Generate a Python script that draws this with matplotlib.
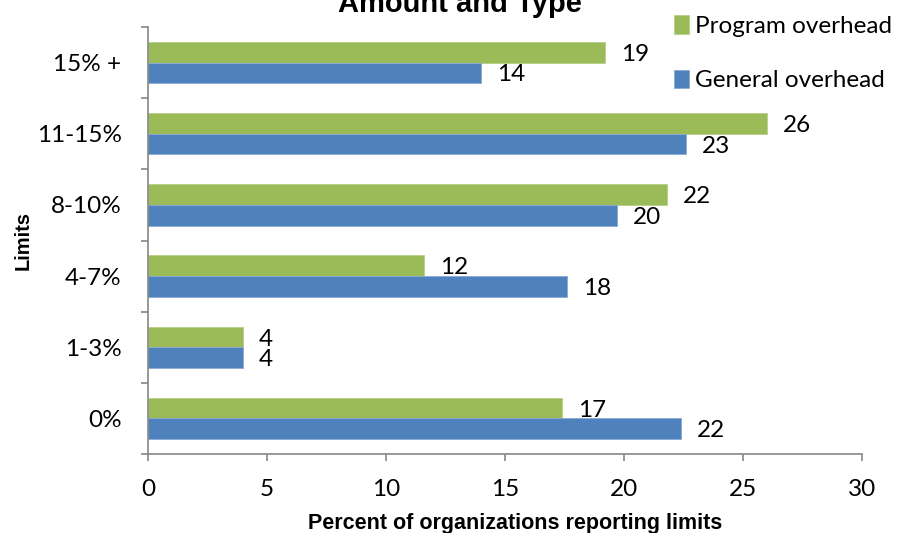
import matplotlib
matplotlib.use('Agg')
import matplotlib.pyplot as plt
import numpy as np

# data
categories = ['0%', '1-3%', '4-7%', '8-10%', '11-15%', '15% +']
program = [17.4, 4.0, 11.6, 21.8, 26.0, 19.2]
general = [22.4, 4.0, 17.6, 19.7, 22.6, 14.0]
program_labels = ['17', '4', '12', '22', '26', '19']
general_labels = ['22', '4', '18', '20', '23', '14']

GREEN = '#9BBB59'
BLUE = '#4F81BD'
AXIS = '#868686'
TICK_FONT = 'Lato'
BOLD_FONT = 'Liberation Sans'
FS = 17.5

fig = plt.figure(figsize=(9.11, 5.33), dpi=100)
ax = fig.add_axes([148 / 911, 1 - 454 / 533, 714 / 911, 427 / 533])

y = np.arange(len(categories))
h = 0.29
ax.barh(y + h / 2, program, height=h, color=GREEN, edgecolor='#B5CF86', linewidth=0.6,
        label='Program overhead')
ax.barh(y - h / 2, general, height=h, color=BLUE, edgecolor='#8BA9D4', linewidth=0.6,
        label='General overhead')

# value labels outside the bar ends
for yi, v, t in zip(y, program, program_labels):
    ax.annotate(t, (v, yi + h / 2), xytext=(11.5, -1.5), textcoords='offset points',
                va='center', ha='left', fontsize=FS, family=TICK_FONT)
for yi, v, t in zip(y, general, general_labels):
    ax.annotate(t, (v, yi - h / 2), xytext=(11.5, -1.5), textcoords='offset points',
                va='center', ha='left', fontsize=FS, family=TICK_FONT)

ax.set_xlim(0, 30)
ax.set_ylim(-0.5, len(categories) - 0.5)
ax.set_xticks(np.arange(0, 31, 5))
ax.set_yticks(y)
ax.set_yticklabels(categories)
ax.set_yticks(np.arange(-0.5, len(categories)), minor=True)

for s in ['top', 'right']:
    ax.spines[s].set_visible(False)
for s in ['left', 'bottom']:
    ax.spines[s].set_color(AXIS)
    ax.spines[s].set_linewidth(1.2)

ax.tick_params(axis='y', which='major', length=0, pad=19)
ax.tick_params(axis='y', which='minor', length=5, color=AXIS, width=1.2)
ax.tick_params(axis='x', which='major', length=5, color=AXIS, width=1.2, pad=13)
for lab in ax.get_xticklabels() + ax.get_yticklabels():
    lab.set_fontfamily(TICK_FONT)
    lab.set_fontsize(FS)

leg = ax.legend(loc='upper left', bbox_to_anchor=(674 / 911, 1 - 15 / 533), bbox_transform=fig.transFigure,
                frameon=False, handlelength=0.6, handleheight=0.8, handletextpad=0.25,
                labelspacing=1.35, borderaxespad=0, borderpad=0,
                prop={'family': TICK_FONT, 'size': 17.5})

fig.text(459.5 / 911, 1 - 12 / 533, 'Amount and Type', ha='center', va='baseline',
         fontsize=21, fontweight='bold', family=BOLD_FONT)
fig.text(23 / 911, 1 - 241 / 533, 'Limits', rotation=90, ha='center', va='center',
         fontsize=14.5, fontweight='bold', family=BOLD_FONT)
fig.text(515 / 911, 1 - 523 / 533, 'Percent of organizations reporting limits', ha='center',
         va='center', fontsize=15.5, fontweight='bold', family=BOLD_FONT)

fig.savefig('out.png', dpi=100)
